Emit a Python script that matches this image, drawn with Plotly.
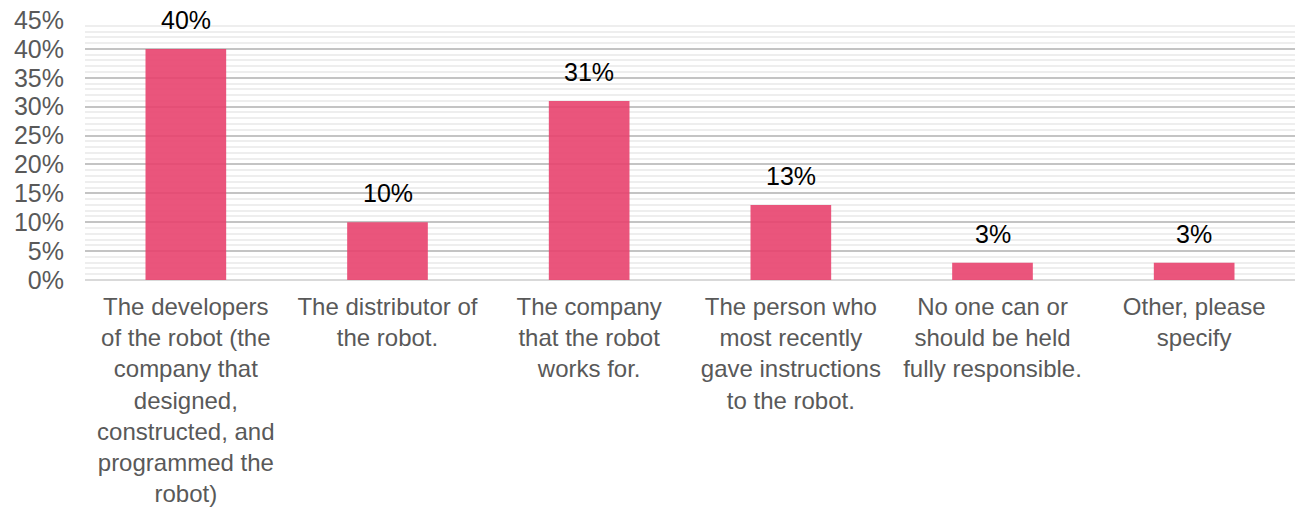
import plotly.graph_objects as go

categories = [
    "The developers<br>of the robot (the<br>company that<br>designed,<br>constructed, and<br>programmed the<br>robot)",
    "The distributor of<br>the robot.",
    "The company<br>that the robot<br>works for.",
    "The person who<br>most recently<br>gave instructions<br>to the robot.",
    "No one can or<br>should be held<br>fully responsible.",
    "Other, please<br>specify",
]
values = [0.40, 0.10, 0.31, 0.13, 0.03, 0.03]
labels = ["40%", "10%", "31%", "13%", "3%", "3%"]
y_ticks = [i * 0.05 for i in range(10)]
y_tick_text = [f"{i * 5}%" for i in range(10)]

FONT = "Liberation Sans, Arial, sans-serif"

fig = go.Figure(
    go.Bar(
        x=categories,
        y=values,
        marker=dict(color="rgba(232,67,110,0.9)", line=dict(width=0)),
        hoverinfo="x+y",
    )
)

# value labels floating above each bar
for cat, val, lab in zip(categories, values, labels):
    fig.add_annotation(
        x=cat,
        y=val,
        text=lab,
        showarrow=False,
        yanchor="bottom",
        yshift=13,
        font=dict(family=FONT, size=25, color="#000000"),
    )

fig.update_layout(
    width=1295,
    height=510,
    margin=dict(l=85, r=0, t=20, b=230),
    paper_bgcolor="white",
    plot_bgcolor="white",
    bargap=0.6,
    showlegend=False,
    font=dict(family=FONT, color="#595959"),
)

fig.update_xaxes(
    showgrid=False,
    showline=False,
    ticks="",
    tickangle=0,
    tickfont=dict(family=FONT, size=24, color="#595959"),
    ticklabelstandoff=10,
    automargin=False,
)

fig.update_yaxes(
    range=[0, 0.45],
    tickvals=y_ticks,
    ticktext=y_tick_text,
    tickfont=dict(family=FONT, size=25, color="#595959"),
    showgrid=True,
    gridcolor="#C4C4C4",
    gridwidth=1.5,
    minor=dict(dtick=0.01, showgrid=True, gridcolor="#EEEEEE", gridwidth=1.5, ticks=""),
    zeroline=True,
    zerolinecolor="#D9D9D9",
    zerolinewidth=1.5,
    showline=False,
    ticks="",
    ticklabelstandoff=20,
    automargin=False,
)

fig.write_html("out.html")
